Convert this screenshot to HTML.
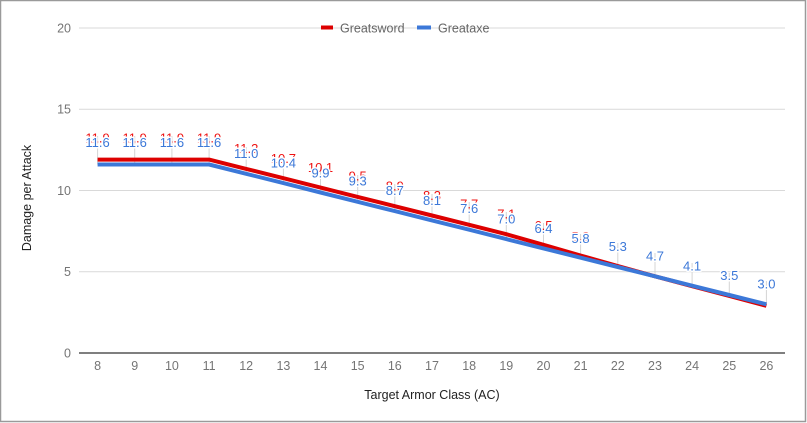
<!DOCTYPE html>
<html><head><meta charset="utf-8"><style>
html,body{margin:0;padding:0;background:#fff;}
svg{display:block;font-family:"Liberation Sans",Arial,sans-serif;}
</style></head><body>
<svg width="807" height="423" viewBox="0 0 807 423" xmlns="http://www.w3.org/2000/svg">
<rect x="0" y="0" width="807" height="423" fill="#fff"/>
<rect x="0.5" y="0.5" width="805" height="421" fill="none" stroke="#9a9a9a" stroke-width="1.5"/>
<!-- gridlines -->
<g stroke="#d9d9d9" stroke-width="1">
<line x1="79" y1="28" x2="785" y2="28"/>
<line x1="79" y1="109.25" x2="785" y2="109.25"/>
<line x1="79" y1="190.5" x2="785" y2="190.5"/>
<line x1="79" y1="271.75" x2="785" y2="271.75"/>
</g>
<line x1="79" y1="353" x2="785" y2="353" stroke="#333" stroke-width="1.2"/>
<!-- y tick labels -->
<g fill="#757575" font-size="12.5" text-anchor="end">
<text x="71" y="32.5">20</text>
<text x="71" y="113.7">15</text>
<text x="71" y="195">10</text>
<text x="71" y="276.2">5</text>
<text x="71" y="357.5">0</text>
</g>
<!-- x tick labels -->
<g fill="#757575" font-size="12.5" text-anchor="middle">
<text x="97.6" y="370">8</text>
<text x="134.7" y="370">9</text>
<text x="171.9" y="370">10</text>
<text x="209.1" y="370">11</text>
<text x="246.2" y="370">12</text>
<text x="283.4" y="370">13</text>
<text x="320.5" y="370">14</text>
<text x="357.7" y="370">15</text>
<text x="394.8" y="370">16</text>
<text x="432" y="370">17</text>
<text x="469.2" y="370">18</text>
<text x="506.3" y="370">19</text>
<text x="543.5" y="370">20</text>
<text x="580.6" y="370">21</text>
<text x="617.8" y="370">22</text>
<text x="655" y="370">23</text>
<text x="692.1" y="370">24</text>
<text x="729.3" y="370">25</text>
<text x="766.4" y="370">26</text>
</g>
<!-- axis titles -->
<text x="432" y="399" fill="#222" font-size="12.5" text-anchor="middle">Target Armor Class (AC)</text>
<text transform="translate(31,198) rotate(-90)" fill="#222" font-size="12.5" text-anchor="middle">Damage per Attack</text>
<!-- legend -->
<rect x="321" y="25.5" width="12" height="4" fill="#dd0000"/>
<text x="340" y="32.5" fill="#666" font-size="12.5">Greatsword</text>
<rect x="417" y="25.5" width="14" height="4" fill="#3c78d8"/>
<text x="438" y="32.5" fill="#666" font-size="12.5">Greataxe</text>
<!-- stems -->
<g stroke="#d4d4d4" stroke-width="1">
<line x1="97.6" y1="164.5" x2="97.6" y2="136"/>
<line x1="134.7" y1="164.5" x2="134.7" y2="136"/>
<line x1="171.9" y1="164.5" x2="171.9" y2="136"/>
<line x1="209.1" y1="164.5" x2="209.1" y2="136"/>
<line x1="246.2" y1="173.8" x2="246.2" y2="147"/>
<line x1="283.4" y1="183.1" x2="283.4" y2="157"/>
<line x1="320.5" y1="192.5" x2="320.5" y2="167"/>
<line x1="357.7" y1="201.8" x2="357.7" y2="175"/>
<line x1="394.8" y1="211.1" x2="394.8" y2="184"/>
<line x1="432" y1="220.4" x2="432" y2="194"/>
<line x1="469.2" y1="229.7" x2="469.2" y2="202"/>
<line x1="506.3" y1="239.1" x2="506.3" y2="212"/>
<line x1="543.5" y1="248.4" x2="543.5" y2="223"/>
<line x1="580.6" y1="257.7" x2="580.6" y2="234"/>
<line x1="617.8" y1="267" x2="617.8" y2="243"/>
<line x1="655" y1="276.3" x2="655" y2="253"/>
<line x1="692.1" y1="285.7" x2="692.1" y2="263"/>
<line x1="729.3" y1="295" x2="729.3" y2="273"/>
<line x1="766.4" y1="304.3" x2="766.4" y2="281"/>
</g>
<!-- series -->
<polyline fill="none" stroke="#dd0000" stroke-width="4" stroke-linejoin="round"
points="97.6,159.6 134.7,159.6 171.9,159.6 209.1,159.6 246.2,168.9 283.4,178.2 320.5,187.6 357.7,196.9 394.8,206.2 432,215.5 469.2,224.8 506.3,234.2 543.5,244.8 580.6,255.5 617.8,266.1 655,276.3 692.1,286.2 729.3,296 766.4,305.8"/>
<polyline fill="none" stroke="#3c78d8" stroke-width="4" stroke-linejoin="round"
points="97.6,164.5 134.7,164.5 171.9,164.5 209.1,164.5 246.2,173.8 283.4,183.1 320.5,192.5 357.7,201.8 394.8,211.1 432,220.4 469.2,229.7 506.3,239.1 543.5,248.4 580.6,257.7 617.8,267 655,276.3 692.1,285.7 729.3,295 766.4,304.3"/>
<!-- red labels -->
<g fill="#ee1111" font-size="13" text-anchor="middle">
<text x="97.6" y="142.3">11.9</text>
<text x="134.7" y="142.3">11.9</text>
<text x="171.9" y="142.3">11.9</text>
<text x="209.1" y="142.3">11.9</text>
<text x="246.2" y="153.1">11.3</text>
<text x="283.4" y="162.8">10.7</text>
<text x="320.5" y="172">10.1</text>
<text x="357.7" y="180.7">9.5</text>
<text x="394.8" y="190.4">8.9</text>
<text x="432" y="200.2">8.3</text>
<text x="469.2" y="208.3">7.7</text>
<text x="506.3" y="218.6">7.1</text>
<text x="543.5" y="230">6.5</text>
<text x="580.6" y="240.8">5.9</text>
</g>
<!-- blue labels -->
<g fill="#3c78d8" font-size="13" text-anchor="middle" stroke="#fff" stroke-width="3" paint-order="stroke" stroke-linejoin="round">
<text x="97.6" y="147">11.6</text>
<text x="134.7" y="147">11.6</text>
<text x="171.9" y="147">11.6</text>
<text x="209.1" y="147">11.6</text>
<text x="246.2" y="157.8">11.0</text>
<text x="283.4" y="167.5">10.4</text>
<text x="320.5" y="177.3">9.9</text>
<text x="357.7" y="185.4">9.3</text>
<text x="394.8" y="195.1">8.7</text>
<text x="432" y="204.9">8.1</text>
<text x="469.2" y="213">7.6</text>
<text x="506.3" y="223.3">7.0</text>
<text x="543.5" y="233">6.4</text>
<text x="580.6" y="242.8">5.8</text>
<text x="617.8" y="250.9">5.3</text>
<text x="655" y="260.6">4.7</text>
<text x="692.1" y="270.4">4.1</text>
<text x="729.3" y="280.1">3.5</text>
<text x="766.4" y="288.3">3.0</text>
</g>
</svg>
</body></html>
